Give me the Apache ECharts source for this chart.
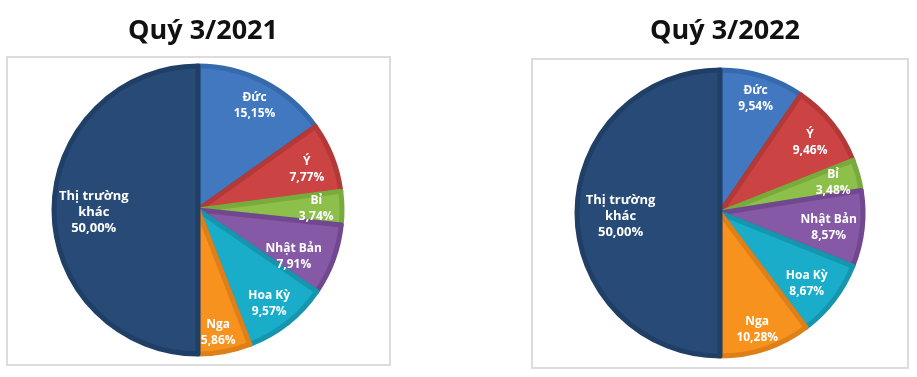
<!DOCTYPE html>
<html><head><meta charset="utf-8">
<script src="https://cdn.jsdelivr.net/npm/echarts@6/dist/echarts.min.js"></script>
<style>html,body{margin:0;padding:0;background:#fff}#c{width:917px;height:377px}</style>
</head><body><div id="c"></div>
<script>
const categories = ['Đức', 'Ý', 'Bỉ', 'Nhật Bản', 'Hoa Kỳ', 'Nga', 'Thị trường khác'];
const labelNames = ['Đức', 'Ý', 'Bỉ', 'Nhật Bản', 'Hoa Kỳ', 'Nga', 'Thị trường\nkhác'];
const values2021 = [15.15, 7.77, 3.74, 7.91, 9.57, 5.86, 50.00];
const values2022 = [9.54, 9.46, 3.48, 8.57, 8.67, 10.28, 50.00];
const titles = ['Quý 3/2021', 'Quý 3/2022'];
const fillColors = ['#4178c0', '#cc4343', '#8dc04a', '#8559a5', '#1aadc9', '#f7921f', '#284a76'];
const edgeColors = ['#3769ad', '#b33838', '#79aa3c', '#714890', '#1696ae', '#de7f17', '#203f67'];

// label nudges (layout only)
const nudge2021 = [[1, 3], [-4, 4], [-3, 0], [-18, 5], [-4, -2], [-2, 3], [17, 2]];
const nudge2022 = [[0, 1], [-4, 5], [-3, 1], [-11, 1], [-9, -3], [-1, 2], [21, 3]];

function fmt(v){ return v.toFixed(2).replace('.', ',') + '%'; }

function makeSeries(values, cx, cy, R, nudge){
  const base = {
    type: 'pie', center: [cx, cy], startAngle: 90, clockwise: true,
    silent: true, animation: false, avoidLabelOverlap: false
  };
  const fill = Object.assign({}, base, {
    radius: [0, R - 2],
    label: {show: false}, labelLine: {show: false},
    data: values.map((v, i) => ({
      name: categories[i], value: v,
      itemStyle: {color: fillColors[i], borderColor: edgeColors[i], borderWidth: 5}
    }))
  });
  const labels = Object.assign({}, base, {
    radius: [R * 0.62, R],
    z: 5,
    itemStyle: {color: 'rgba(0,0,0,0)', borderWidth: 0},
    labelLine: {show: false},
    label: {
      show: true, position: 'inside', color: '#fff', overflow: 'none',
      fontFamily: 'Open Sans', fontWeight: 'bold', fontSize: 12, lineHeight: 16,
      formatter: p => labelNames[p.dataIndex] + '\n' + fmt(p.value)
    },
    data: values.map((v, i) => ({
      name: categories[i], value: v,
      label: i === 6 ? {offset: nudge[i], fontSize: 13} : {offset: nudge[i]}
    }))
  });
  return [fill, labels];
}

const chart = echarts.init(document.getElementById('c'), null, {renderer: 'canvas'});
chart.setOption({
  backgroundColor: '#fff',
  title: [
    {text: titles[0], left: 198, top: 13, textAlign: 'center',
     textStyle: {fontFamily: 'Open Sans', fontWeight: 'bold', fontSize: 27, color: '#111'}},
    {text: titles[1], left: 720, top: 13, textAlign: 'center',
     textStyle: {fontFamily: 'Open Sans', fontWeight: 'bold', fontSize: 27, color: '#111'}}
  ],
  graphic: [
    {type: 'rect', shape: {x: 7, y: 57, width: 383, height: 308}, style: {fill: 'none', stroke: '#dcdcdc', lineWidth: 2}, z: -1},
    {type: 'rect', shape: {x: 532, y: 59, width: 376, height: 309}, style: {fill: 'none', stroke: '#dcdcdc', lineWidth: 2}, z: -1}
  ],
  series: [].concat(makeSeries(values2021, 198, 210, 146, nudge2021), makeSeries(values2022, 720, 213, 145, nudge2022))
});
</script></body></html>
